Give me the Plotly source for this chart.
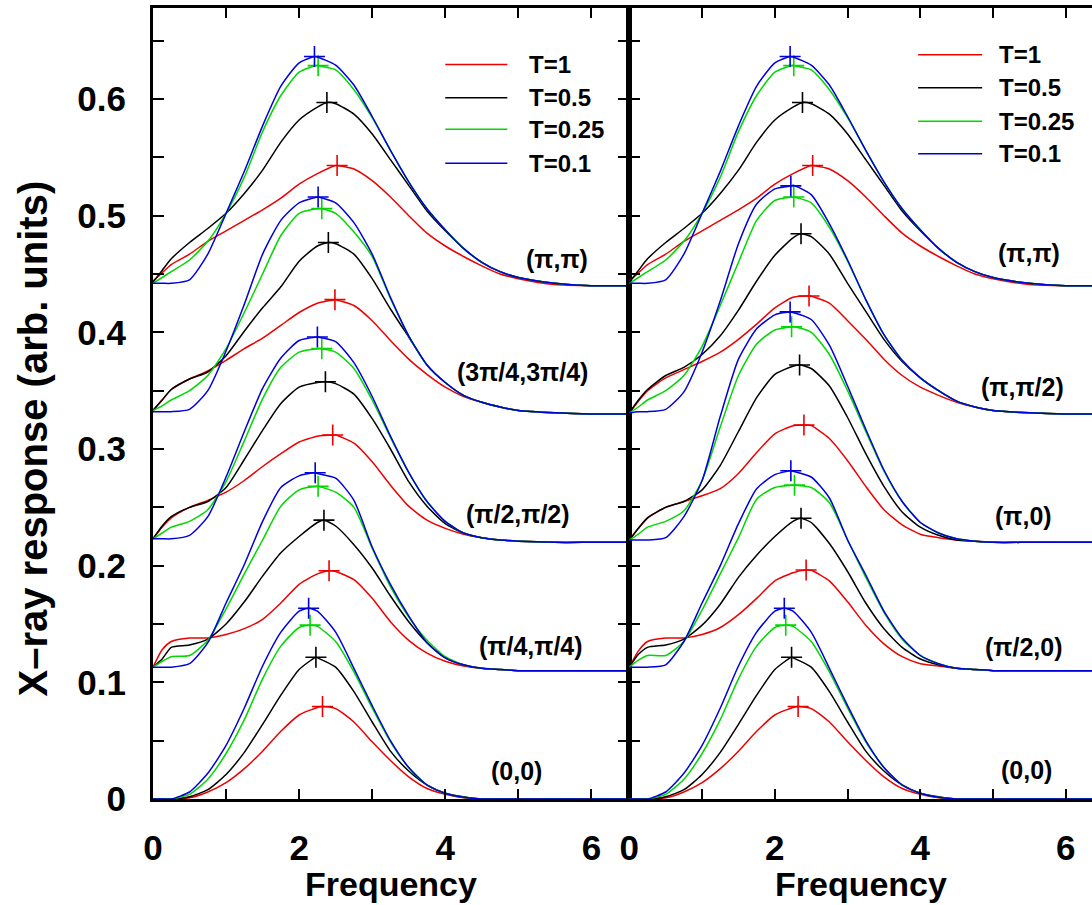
import plotly.graph_objects as go

# ---------------- data ----------------
FREQ = [0, 0.125, 0.25, 0.5, 0.75, 1.0, 1.25, 1.5, 1.75, 2.0, 2.25, 2.5, 2.75,
        3.0, 3.25, 3.5, 3.75, 4.0, 4.25, 4.5, 4.75, 5.0, 5.5, 6.0, 6.5]

TEMPS = ["T=1", "T=0.5", "T=0.25", "T=0.1"]
COLORS = ["#ee0000", "#000000", "#00d800", "#0000dd"]

# response above each curve's baseline offset
Q00_T1   = [0, 0, 0, 0.001, 0.006, 0.014, 0.026, 0.041, 0.058, 0.072, 0.0785, 0.0775, 0.066, 0.049, 0.033, 0.019, 0.009, 0.004, 0.001, 0, 0, 0, 0, 0, 0]
Q00_T05  = [0, 0, 0, 0.002, 0.008, 0.021, 0.040, 0.064, 0.089, 0.111, 0.121, 0.113, 0.092, 0.066, 0.041, 0.024, 0.012, 0.005, 0.002, 0, 0, 0, 0, 0, 0]
Q00_T025 = [0, 0, 0, 0.004, 0.017, 0.039, 0.068, 0.103, 0.131, 0.147, 0.148, 0.135, 0.109, 0.078, 0.049, 0.027, 0.012, 0.005, 0.0015, 0, 0, 0, 0, 0, 0]
Q00_T01  = [0, 0, 0, 0.006, 0.022, 0.046, 0.078, 0.114, 0.143, 0.161, 0.161, 0.143, 0.112, 0.080, 0.050, 0.027, 0.012, 0.005, 0.0015, 0, 0, 0, 0, 0, 0]

PI4_T1   = [0.003, 0.018, 0.025, 0.028, 0.028, 0.031, 0.036, 0.044, 0.058, 0.074, 0.083, 0.085, 0.078, 0.062, 0.042, 0.026, 0.015, 0.008, 0.004, 0.002, 0.001, 0, 0, 0, 0]
PI4_T05  = [0.003, 0.010, 0.020, 0.022, 0.027, 0.040, 0.059, 0.081, 0.101, 0.115, 0.127, 0.124, 0.108, 0.088, 0.064, 0.042, 0.024, 0.011, 0.005, 0.002, 0.001, 0, 0, 0, 0]
PI4_T025 = [0.003, 0.008, 0.012, 0.013, 0.026, 0.053, 0.083, 0.112, 0.141, 0.155, 0.158, 0.153, 0.140, 0.105, 0.072, 0.046, 0.026, 0.012, 0.005, 0.002, 0.001, 0, 0, 0, 0]
PI4_T01  = [0.003, 0.003, 0.003, 0.006, 0.024, 0.058, 0.091, 0.128, 0.157, 0.167, 0.169, 0.165, 0.146, 0.106, 0.074, 0.047, 0.024, 0.011, 0.005, 0.002, 0.001, 0, 0, 0, 0]

PI2_T1   = [0.003, 0.013, 0.021, 0.030, 0.036, 0.043, 0.053, 0.065, 0.076, 0.086, 0.091, 0.092, 0.085, 0.069, 0.049, 0.031, 0.019, 0.012, 0.007, 0.004, 0.002, 0.001, 0, 0, 0]
PI2_T05  = [0.003, 0.014, 0.022, 0.030, 0.035, 0.047, 0.071, 0.096, 0.119, 0.133, 0.137, 0.136, 0.127, 0.106, 0.080, 0.052, 0.031, 0.016, 0.008, 0.004, 0.002, 0.001, 0, 0, 0]
PI2_T025 = [0.003, 0.008, 0.013, 0.018, 0.028, 0.052, 0.087, 0.123, 0.150, 0.163, 0.166, 0.163, 0.149, 0.122, 0.090, 0.060, 0.035, 0.018, 0.008, 0.004, 0.002, 0.001, 0, 0, 0]
PI2_T01  = [0.003, 0.003, 0.003, 0.006, 0.022, 0.056, 0.095, 0.132, 0.158, 0.173, 0.176, 0.172, 0.154, 0.125, 0.091, 0.060, 0.035, 0.018, 0.008, 0.004, 0.002, 0.001, 0, 0, 0]

P3PI4_T1   = [0.003, 0.012, 0.021, 0.030, 0.037, 0.046, 0.056, 0.065, 0.076, 0.087, 0.095, 0.098, 0.093, 0.080, 0.063, 0.047, 0.034, 0.023, 0.015, 0.010, 0.006, 0.003, 0.001, 0, 0]
P3PI4_T05  = [0.003, 0.012, 0.021, 0.030, 0.036, 0.050, 0.071, 0.091, 0.109, 0.131, 0.144, 0.146, 0.137, 0.116, 0.090, 0.066, 0.042, 0.027, 0.016, 0.010, 0.006, 0.003, 0.001, 0, 0]
P3PI4_T025 = [0.003, 0.007, 0.012, 0.020, 0.033, 0.056, 0.087, 0.120, 0.153, 0.172, 0.176, 0.172, 0.156, 0.135, 0.099, 0.067, 0.042, 0.027, 0.016, 0.010, 0.006, 0.003, 0.001, 0, 0]
P3PI4_T01  = [0.002, 0.002, 0.002, 0.004, 0.020, 0.054, 0.094, 0.137, 0.166, 0.181, 0.186, 0.181, 0.164, 0.137, 0.100, 0.067, 0.042, 0.027, 0.016, 0.010, 0.006, 0.003, 0.001, 0, 0]

PIPI_T1   = [0.004, 0.011, 0.018, 0.027, 0.038, 0.047, 0.056, 0.065, 0.075, 0.087, 0.096, 0.103, 0.100, 0.090, 0.076, 0.060, 0.045, 0.034, 0.025, 0.017, 0.010, 0.006, 0.001, 0, 0]
PIPI_T05  = [0.003, 0.013, 0.023, 0.037, 0.049, 0.062, 0.079, 0.099, 0.123, 0.142, 0.153, 0.156, 0.147, 0.130, 0.108, 0.086, 0.064, 0.047, 0.032, 0.020, 0.012, 0.007, 0.002, 0, 0]
PIPI_T025 = [0.002, 0.007, 0.012, 0.022, 0.038, 0.062, 0.093, 0.132, 0.163, 0.183, 0.189, 0.185, 0.168, 0.144, 0.116, 0.089, 0.066, 0.048, 0.032, 0.020, 0.012, 0.007, 0.002, 0, 0]
PIPI_T01  = [0.002, 0.002, 0.002, 0.005, 0.027, 0.062, 0.098, 0.137, 0.171, 0.191, 0.196, 0.189, 0.172, 0.145, 0.116, 0.089, 0.066, 0.048, 0.032, 0.020, 0.012, 0.007, 0.002, 0, 0]

PI2_0_T1   = [0.003, 0.017, 0.025, 0.028, 0.028, 0.031, 0.037, 0.048, 0.062, 0.077, 0.084, 0.086, 0.077, 0.059, 0.039, 0.023, 0.012, 0.006, 0.004, 0.002, 0.001, 0, 0, 0, 0]
PI2_0_T05  = [0.003, 0.014, 0.020, 0.022, 0.027, 0.039, 0.057, 0.080, 0.099, 0.115, 0.128, 0.127, 0.109, 0.085, 0.058, 0.036, 0.020, 0.010, 0.005, 0.002, 0.001, 0, 0, 0, 0]
PI2_0_T025 = [0.003, 0.009, 0.013, 0.013, 0.025, 0.052, 0.083, 0.114, 0.147, 0.157, 0.159, 0.157, 0.144, 0.112, 0.080, 0.050, 0.027, 0.013, 0.006, 0.002, 0.001, 0, 0, 0, 0]
PI2_0_T01  = [0.003, 0.003, 0.003, 0.005, 0.025, 0.058, 0.090, 0.126, 0.156, 0.168, 0.171, 0.166, 0.148, 0.112, 0.082, 0.051, 0.028, 0.013, 0.006, 0.002, 0.001, 0, 0, 0, 0]

PI0_T1   = [0.002, 0.012, 0.021, 0.030, 0.035, 0.040, 0.046, 0.059, 0.077, 0.093, 0.100, 0.100, 0.089, 0.070, 0.048, 0.028, 0.015, 0.007, 0.004, 0.002, 0.001, 0, 0, 0, 0]
PI0_T05  = [0.002, 0.012, 0.021, 0.030, 0.035, 0.045, 0.066, 0.095, 0.124, 0.144, 0.151, 0.149, 0.134, 0.107, 0.076, 0.048, 0.026, 0.013, 0.006, 0.002, 0.001, 0, 0, 0, 0]
PI0_T025 = [0.002, 0.007, 0.013, 0.018, 0.027, 0.053, 0.099, 0.143, 0.170, 0.182, 0.185, 0.180, 0.161, 0.130, 0.095, 0.061, 0.035, 0.017, 0.008, 0.003, 0.001, 0, 0, 0, 0]
PI0_T01  = [0.002, 0.002, 0.002, 0.004, 0.022, 0.053, 0.108, 0.157, 0.183, 0.195, 0.197, 0.191, 0.169, 0.134, 0.097, 0.062, 0.035, 0.017, 0.008, 0.003, 0.001, 0, 0, 0, 0]

PIPI2_T1   = [0.001, 0.011, 0.020, 0.031, 0.038, 0.045, 0.053, 0.064, 0.077, 0.091, 0.100, 0.101, 0.095, 0.080, 0.064, 0.047, 0.033, 0.023, 0.016, 0.010, 0.006, 0.003, 0.001, 0, 0]
PIPI2_T05  = [0.001, 0.012, 0.021, 0.033, 0.040, 0.051, 0.067, 0.089, 0.114, 0.136, 0.151, 0.152, 0.137, 0.112, 0.088, 0.064, 0.045, 0.031, 0.020, 0.011, 0.006, 0.003, 0.001, 0, 0]
PIPI2_T025 = [0.001, 0.006, 0.012, 0.020, 0.033, 0.058, 0.093, 0.130, 0.166, 0.183, 0.186, 0.181, 0.160, 0.131, 0.098, 0.068, 0.046, 0.031, 0.020, 0.011, 0.006, 0.003, 0.001, 0, 0]
PIPI2_T01  = [0.001, 0.002, 0.002, 0.004, 0.019, 0.053, 0.097, 0.146, 0.180, 0.193, 0.196, 0.188, 0.163, 0.132, 0.098, 0.068, 0.046, 0.031, 0.020, 0.011, 0.006, 0.003, 0.001, 0, 0]

# peak positions (the "+" markers), order T=1, 0.5, 0.25, 0.1 ; heights above offset
Q00_PEAK_X   = [2.32, 2.23, 2.15, 2.13]
Q00_PEAK_Y   = [0.0793, 0.1215, 0.149, 0.1635]
PI4_PEAK_X   = [2.41, 2.34, 2.26, 2.22]
PI4_PEAK_Y   = [0.0857, 0.129, 0.158, 0.1696]
PI2_PEAK_X   = [2.46, 2.36, 2.31, 2.25]
PI2_PEAK_Y   = [0.092, 0.1376, 0.166, 0.176]
P3PI4_PEAK_X = [2.49, 2.40, 2.31, 2.26]
P3PI4_PEAK_Y = [0.098, 0.147, 0.176, 0.186]
PIPI_PEAK_X  = [2.52, 2.38, 2.26, 2.21]
PIPI_PEAK_Y  = [0.103, 0.157, 0.1886, 0.1964]
PI2_0_PEAK_X = [2.43, 2.36, 2.27, 2.22]
PI2_0_PEAK_Y = [0.0863, 0.1306, 0.159, 0.1714]
PI0_PEAK_X   = [2.40, 2.34, 2.23, 2.21]
PI0_PEAK_Y   = [0.1005, 0.152, 0.1847, 0.1975]
PIPI2_PEAK_X = [2.47, 2.36, 2.26, 2.22]
PIPI2_PEAK_Y = [0.1012, 0.1545, 0.186, 0.1955]

OFFSETS = [0.0, 0.11, 0.22, 0.33, 0.44]
LABELS_LEFT = ["(0,0)", "(π/4,π/4)", "(π/2,π/2)", "(3π/4,3π/4)", "(π,π)"]
LABELS_RIGHT = ["(0,0)", "(π/2,0)", "(π,0)", "(π,π/2)", "(π,π)"]

Y_TICKS = [0, 0.05, 0.1, 0.15, 0.2, 0.25, 0.3, 0.35, 0.4, 0.45, 0.5, 0.55, 0.6, 0.65]
Y_TICKTEXT = ["0", "", "0.1", "", "0.2", "", "0.3", "", "0.4", "", "0.5", "", "0.6", ""]
X_TICKS = [0, 1, 2, 3, 4, 5, 6]
X_TICKTEXT = ["0", "", "2", "", "4", "", "6"]

LEFT = [
    ([Q00_T1, Q00_T05, Q00_T025, Q00_T01], Q00_PEAK_X, Q00_PEAK_Y),
    ([PI4_T1, PI4_T05, PI4_T025, PI4_T01], PI4_PEAK_X, PI4_PEAK_Y),
    ([PI2_T1, PI2_T05, PI2_T025, PI2_T01], PI2_PEAK_X, PI2_PEAK_Y),
    ([P3PI4_T1, P3PI4_T05, P3PI4_T025, P3PI4_T01], P3PI4_PEAK_X, P3PI4_PEAK_Y),
    ([PIPI_T1, PIPI_T05, PIPI_T025, PIPI_T01], PIPI_PEAK_X, PIPI_PEAK_Y),
]
RIGHT = [
    ([Q00_T1, Q00_T05, Q00_T025, Q00_T01], Q00_PEAK_X, Q00_PEAK_Y),
    ([PI2_0_T1, PI2_0_T05, PI2_0_T025, PI2_0_T01], PI2_0_PEAK_X, PI2_0_PEAK_Y),
    ([PI0_T1, PI0_T05, PI0_T025, PI0_T01], PI0_PEAK_X, PI0_PEAK_Y),
    ([PIPI2_T1, PIPI2_T05, PIPI2_T025, PIPI2_T01], PIPI2_PEAK_X, PIPI2_PEAK_Y),
    ([PIPI_T1, PIPI_T05, PIPI_T025, PIPI_T01], PIPI_PEAK_X, PIPI_PEAK_Y),
]

# ---------------- layout constants ----------------
FONT = "Liberation Sans, Arial, sans-serif"
LABEL_POS_LEFT = [(4.97, 0.024), (5.18, 0.131), (4.99, 0.244), (5.06, 0.366), (5.53, 0.463)]
LABEL_POS_RIGHT = [(5.46, 0.025), (5.43, 0.130), (5.42, 0.243), (5.40, 0.353), (5.50, 0.468)]
LEG_LEFT = dict(x0=4.0, x1=4.85, xt=5.12, ys=[0.6295, 0.601, 0.574, 0.545])
LEG_RIGHT = dict(x0=3.97, x1=4.85, xt=5.06, ys=[0.638, 0.6096, 0.581, 0.553])

fig = go.Figure()


def add_panel(panel, xa, ya):
    for k, (curves, px, py) in enumerate(panel):
        off = OFFSETS[k]
        for i, vals in enumerate(curves):
            pts = sorted(list(zip(FREQ, vals)) + [(px[i], py[i])])
            fig.add_trace(go.Scatter(
                x=[p[0] for p in pts], y=[p[1] + off for p in pts],
                mode="lines", line=dict(color=COLORS[i], width=1.5, shape="spline", smoothing=0.6),
                xaxis=xa, yaxis=ya, showlegend=False, hoverinfo="skip"))
            fig.add_trace(go.Scatter(
                x=[px[i]], y=[py[i] + off], mode="markers",
                marker=dict(symbol="cross-thin", size=15, line=dict(color=COLORS[i], width=1.6)),
                xaxis=xa, yaxis=ya, showlegend=False, hoverinfo="skip"))


add_panel(LEFT, "x", "y")
add_panel(RIGHT, "x2", "y2")

annotations = []
shapes = []
for (lx, ly), txt in zip(LABEL_POS_LEFT, LABELS_LEFT):
    annotations.append(dict(x=lx, y=ly, xref="x", yref="y", text=txt, showarrow=False,
                            font=dict(family=FONT, size=25, color="black", weight="bold")))
for (lx, ly), txt in zip(LABEL_POS_RIGHT, LABELS_RIGHT):
    annotations.append(dict(x=lx, y=ly, xref="x2", yref="y2", text=txt, showarrow=False,
                            font=dict(family=FONT, size=25, color="black", weight="bold")))

for leg, xr, yr in [(LEG_LEFT, "x", "y"), (LEG_RIGHT, "x2", "y2")]:
    for i, yy in enumerate(leg["ys"]):
        shapes.append(dict(type="line", xref=xr, yref=yr, x0=leg["x0"], x1=leg["x1"], y0=yy, y1=yy,
                           line=dict(color=COLORS[i], width=1.5)))
        annotations.append(dict(x=leg["xt"], y=yy, xref=xr, yref=yr, text=TEMPS[i], showarrow=False,
                                xanchor="left", yanchor="middle",
                                font=dict(family=FONT, size=24, color="black", weight="bold")))

# axis titles
for xr in ["x domain", "x2 domain"]:
    annotations.append(dict(x=0.5, y=0, xref=xr, yref="paper", text="Frequency", showarrow=False,
                            xanchor="center", yanchor="top", yshift=-65, borderpad=0,
                            font=dict(family=FONT, size=34, color="black", weight="bold")))
annotations.append(dict(x=0, y=0.5, xref="paper", yref="paper", text="X–ray response (arb. units)",
                        showarrow=False, textangle=-90, xanchor="center", yanchor="middle",
                        xshift=-121, yshift=-35,
                        font=dict(family=FONT, size=40, color="black", weight="bold")))

tickfont = dict(family=FONT, size=35, color="black", weight="bold")
common_x = dict(range=[0, 6.52], tickvals=X_TICKS, ticktext=X_TICKTEXT, ticks="inside", ticklen=10,
                tickwidth=2, tickcolor="black", showline=True, linewidth=3, linecolor="black",
                mirror="allticks", showgrid=False, zeroline=False, tickfont=tickfont,
                ticklabelstandoff=16)
common_y = dict(range=[0, 0.678], tickvals=Y_TICKS, ticktext=Y_TICKTEXT, ticks="inside", ticklen=11,
                tickwidth=2, tickcolor="black", showline=True, linewidth=3, linecolor="black",
                showgrid=False, zeroline=False, tickfont=tickfont)

fig.update_layout(
    width=1092, height=905,
    margin=dict(l=153, r=0, t=8, b=106),
    paper_bgcolor="white", plot_bgcolor="white",
    showlegend=False,
    xaxis=dict(common_x, domain=[0, 0.5073], anchor="y"),
    yaxis=dict(common_y, anchor="x", mirror="allticks", ticklabelstandoff=17),
    xaxis2=dict(common_x, domain=[0.5073, 1.0], anchor="y2", range=[0, 6.36]),
    yaxis2=dict(common_y, anchor="x2", matches="y", showticklabels=False, mirror=False),
    annotations=annotations,
    shapes=shapes,
)

fig.write_html("out.html", config={"displayModeBar": False},
               post_script="document.body.style.margin='0px';")
